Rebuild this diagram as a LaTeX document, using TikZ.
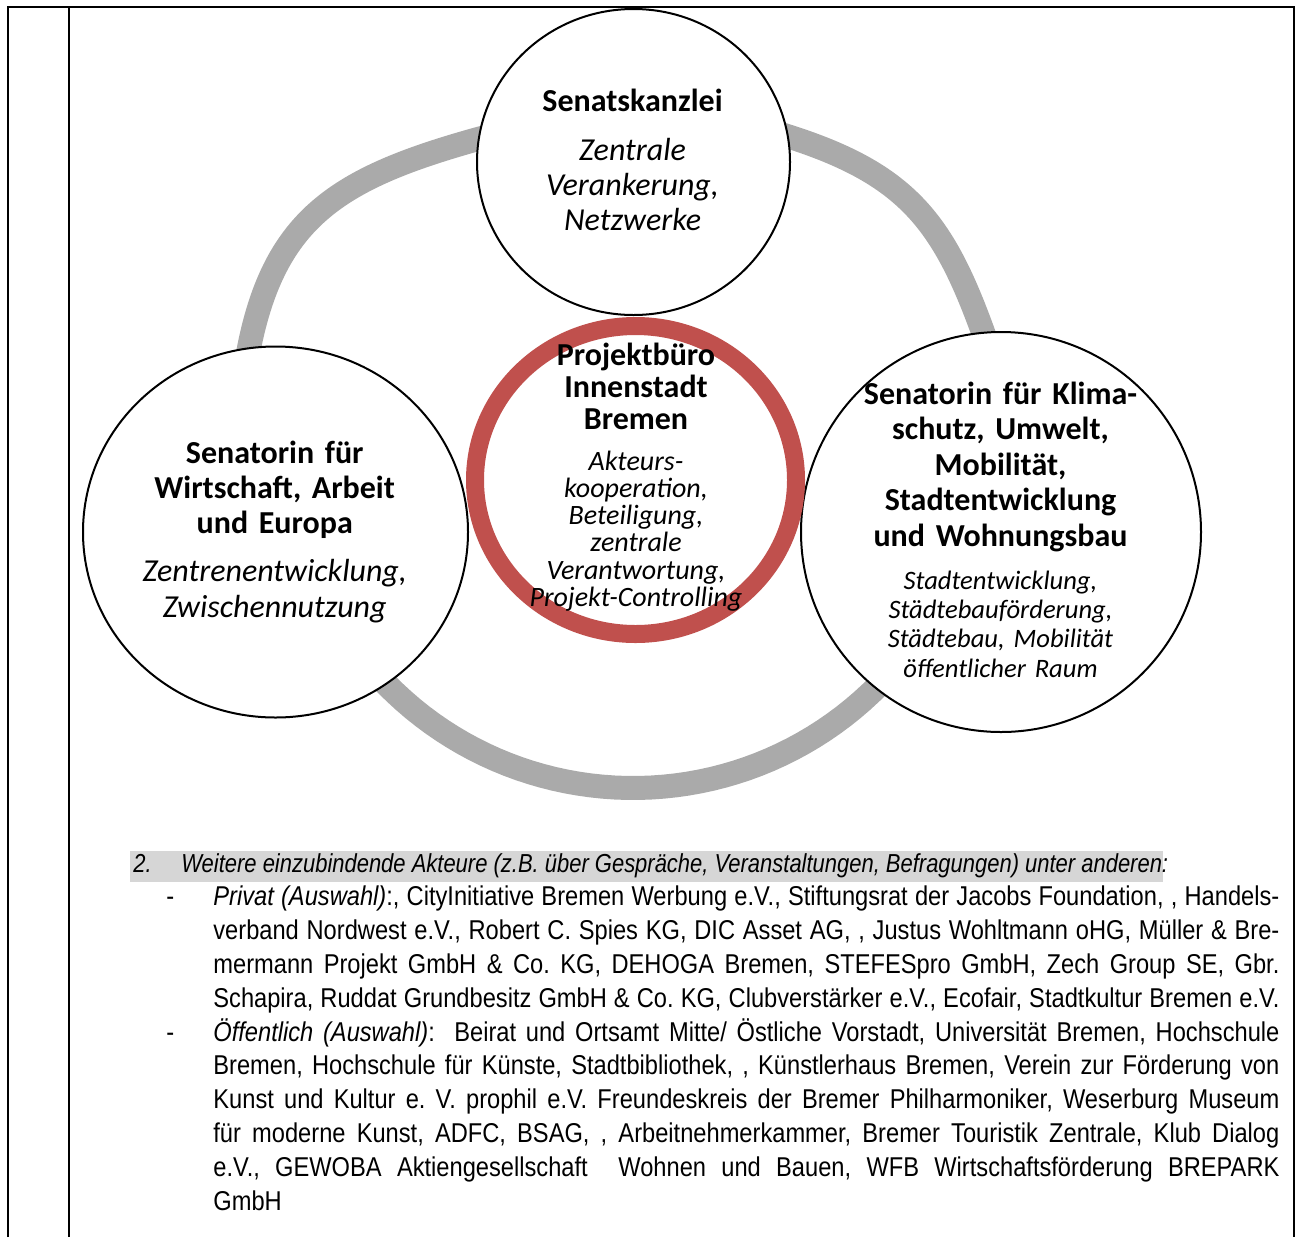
\documentclass[tikz,border=0pt]{standalone}
\usepackage{fontspec}
\setmainfont{Liberation Sans}[FakeStretch=0.845]
\newfontfamily\bodyfont{Liberation Sans}[FakeStretch=0.87]
\newfontfamily\carl{Carlito}
\usetikzlibrary{shapes.geometric}
\definecolor{ringgray}{RGB}{170,170,170}
\definecolor{ringred}{RGB}{192,80,77}
\definecolor{hlgray}{RGB}{214,214,214}
\frenchspacing
\begin{document}
\begin{tikzpicture}[x=0.5pt,y=-0.5pt,
  actor/.style={ellipse, draw=black, line width=1pt, fill=white, inner sep=0pt},
  head/.style={text width=300pt, align=center, anchor=base, inner sep=0pt,
    font=\carl\bfseries\fontsize{16}{17.5}\selectfont},
  role/.style={text width=300pt, align=center, anchor=base, inner sep=0pt,
    font=\carl\itshape\fontsize{16}{17.5}\selectfont},
  htext/.style={anchor=base west, inner sep=0pt, font=\frenchspacing\fontsize{13}{15}\selectfont},
  btext/.style={anchor=base west, inner sep=0pt, font=\bodyfont\frenchspacing\fontsize{13.6}{15}\selectfont},
]
\useasboundingbox (0,0) rectangle (1300,1237);
% frame
\draw[line width=1pt] (8,1237) -- (8,7) -- (1293.5,7) -- (1293.5,1237);
\draw[line width=1pt] (69,7) -- (69,1237);
% grey ring
\draw[ringgray, line width=12pt, line join=round]
  (249,348) .. controls (275,218) and (338,178) .. (478,139)
  .. controls (558,117) and (707,110) .. (787,136)
  .. controls (907,174) and (943,222) .. (983,332)
  .. controls (1019,432) and (971.8,546.2) .. (931.8,615.5)
  -- plot[domain=30:150, samples=60] ({633+345*cos(\x)}, {443+345*sin(\x)})
  .. controls (294.2,546.2) and (227,458) .. cycle;
% actor circles
\node[actor, minimum width=156.5pt, minimum height=153pt] (sk) at (633.5,162) {};
\node[actor, minimum width=192.5pt, minimum height=185.5pt] (wi) at (275.5,532) {};
\node[actor, minimum width=200pt, minimum height=200pt] (kl) at (1001,532) {};
\node[ellipse, draw=ringred, line width=9pt, inner sep=0pt,
  minimum width=160.5pt, minimum height=154pt] (pb) at (635.5,480) {};
% circle texts
\node[head] (skh) at (632.5,111) {Senatskanzlei};
\node[role] (skt) at (632.5,160) {Zentrale\\Verankerung,\\Netzwerke};
\node[head] (wih) at (274.7,463.3) {Senatorin für\\Wirtschaft, Arbeit\\und Europa};
\node[role, font=\carl\itshape\fontsize{16}{17.75}\selectfont] (wit) at (274.7,581.7)
  {Zentrenentwicklung,\\Zwischennutzung};
\node[head, font=\carl\bfseries\fontsize{16}{16}\selectfont] (pbh) at (636,365)
  {Projektbüro\\Innenstadt\\Bremen};
\node[role, font=\carl\itshape\fontsize{14}{13.65}\selectfont] (pbt) at (636,470)
  {Akteurs-\\kooperation,\\Beteiligung,\\zentrale\\Verantwortung,\\Projekt-Controlling};
\node[head, font=\carl\bfseries\fontsize{16}{17.75}\selectfont] (klh) at (1000.5,404)
  {Senatorin für Klima-\\schutz, Umwelt,\\Mobilität,\\Stadtentwicklung\\und Wohnungsbau};
\node[role, font=\carl\itshape\fontsize{13.3}{14.65}\selectfont] (klt) at (1000.5,589.3)
  {Stadtentwicklung,\\Städtebauförderung,\\Städtebau, Mobilität\\öffentlicher Raum};
% list below
\fill[hlgray] (130,851) rectangle (1163,882);
\node[htext] (n2) at (133,872) {\itshape 2.};
\node[htext] (hd) at (181,872) {\itshape Weitere einzubindende Akteure (z.B. über Gespräche, Veranstaltungen, Befragungen) unter anderen:};
\node[btext] (d1) at (166,905.8) {-};
\node[btext] (l1) at (213,905.8) {\hbox to 533pt{\textit{Privat (Auswahl)}:, CityInitiative Bremen Werbung e.V., Stiftungsrat der Jacobs Foundation, , Handels-}};
\node[btext] (l2) at (213,939.6) {\hbox to 533pt{verband Nordwest e.V., Robert C. Spies KG, DIC Asset AG, , Justus Wohltmann oHG, Müller \& Bre-}};
\node[btext] (l3) at (213,973.4) {\hbox to 533pt{mermann Projekt GmbH \& Co. KG, DEHOGA Bremen, STEFESpro GmbH, Zech Group SE, Gbr.}};
\node[btext] (l4) at (213,1007.2) {\hbox to 533pt{Schapira, Ruddat Grundbesitz GmbH \& Co. KG, Clubverstärker e.V., Ecofair, Stadtkultur Bremen e.V.}};
\node[btext] (d2) at (166,1041) {-};
\node[btext] (l5) at (213,1041) {\hbox to 533pt{\textit{Öffentlich (Auswahl)}:\ \ Beirat und Ortsamt Mitte/ Östliche Vorstadt, Universität Bremen, Hochschule}};
\node[btext] (l6) at (213,1074.8) {\hbox to 533pt{Bremen, Hochschule für Künste, Stadtbibliothek, , Künstlerhaus Bremen, Verein zur Förderung von}};
\node[btext] (l7) at (213,1108.6) {\hbox to 533pt{Kunst und Kultur e. V. prophil e.V. Freundeskreis der Bremer Philharmoniker, Weserburg Museum}};
\node[btext] (l8) at (213,1142.4) {\hbox to 533pt{für moderne Kunst, ADFC, BSAG, , Arbeitnehmerkammer, Bremer Touristik Zentrale, Klub Dialog}};
\node[btext] (l9) at (213,1176.2) {\hbox to 533pt{e.V., GEWOBA Aktiengesellschaft\ \ Wohnen und Bauen, WFB Wirtschaftsförderung BREPARK}};
\node[btext] (l10) at (213,1210) {GmbH};
\end{tikzpicture}
\end{document}
